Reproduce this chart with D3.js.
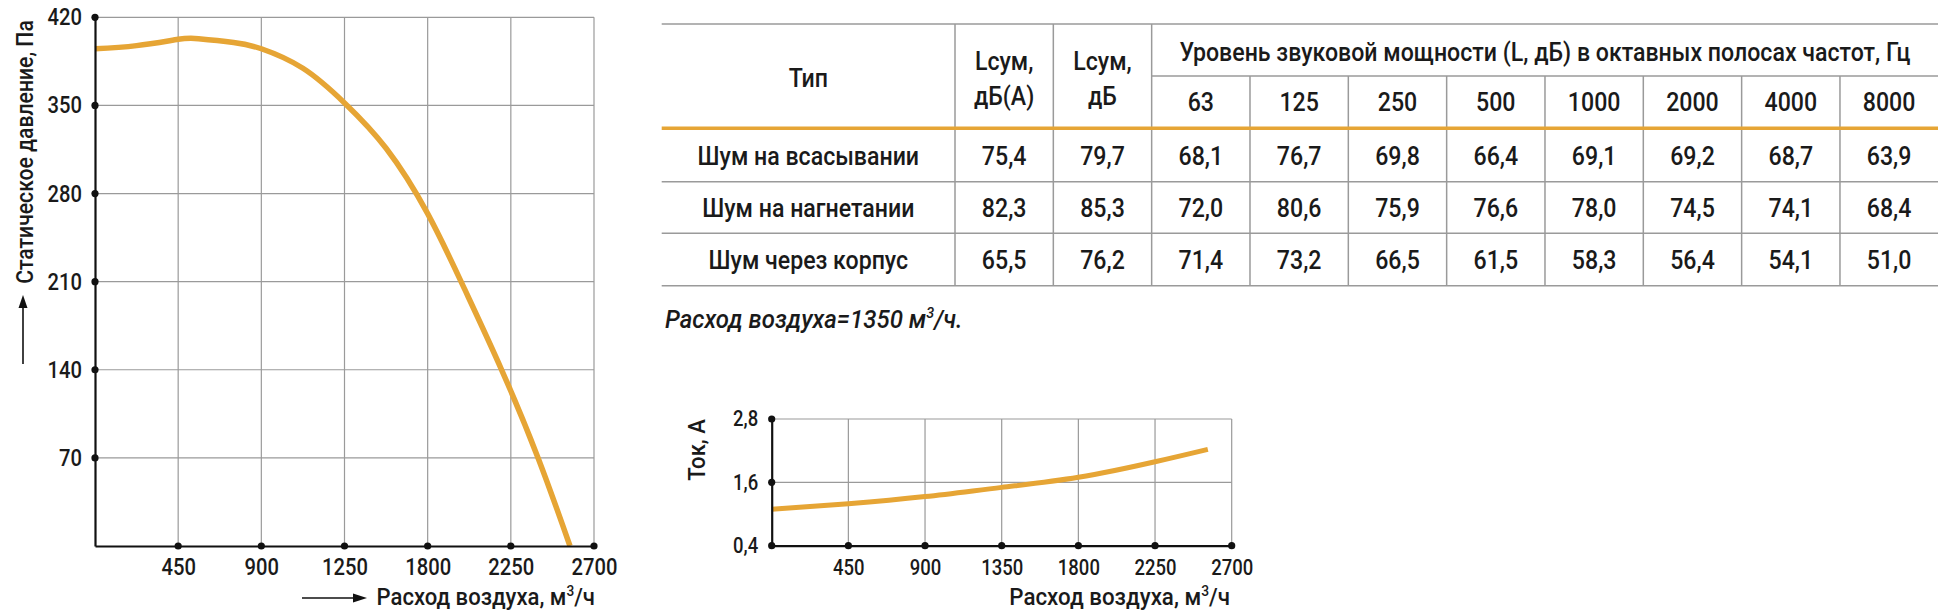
<!DOCTYPE html>
<html><head><meta charset="utf-8">
<script src="https://cdn.jsdelivr.net/npm/d3@7"></script>
<style>
html,body{margin:0;padding:0;background:#fff;}
svg{display:block;}
text{font-family:Roboto,'Liberation Sans',sans-serif;fill:#1a1a1a;font-weight:500;}
</style></head>
<body><svg id="c" width="1938" height="615"></svg>
<script>
// ---------- DATA ----------
const pressureFlow = [0, 225, 450, 560, 750, 900, 1125, 1350, 1575, 1800, 2000, 2200, 2400, 2570];
const pressureVal  = [395, 397.5, 402.5, 403, 400, 395, 379.5, 352, 316, 264, 204, 140, 69, 0];
const mainXTicks = [450, 900, 1350, 1800, 2250, 2700];
const mainXLabels = ["450", "900", "1250", "1800", "2250", "2700"];
const mainYTicks = [70, 140, 210, 280, 350, 420];

const currentFlow = [0, 450, 900, 1350, 1800, 2250, 2560];
const currentVal  = [1.09, 1.195, 1.33, 1.505, 1.695, 1.99, 2.225];
const smallXTicks = [450, 900, 1350, 1800, 2250, 2700];
const smallYTicks = [0.4, 1.6, 2.8];

const rowTypes = ["Шум на всасывании", "Шум на нагнетании", "Шум через корпус"];
const lsumA = [75.4, 82.3, 65.5];
const lsum = [79.7, 85.3, 76.2];
const octaves = ["63", "125", "250", "500", "1000", "2000", "4000", "8000"];
const octaveValues = [
  [68.1, 76.7, 69.8, 66.4, 69.1, 69.2, 68.7, 63.9],
  [72.0, 80.6, 75.9, 76.6, 78.0, 74.5, 74.1, 68.4],
  [71.4, 73.2, 66.5, 61.5, 58.3, 56.4, 54.1, 51.0]
];
const headerType = "Тип";
const headerLsumA = ["Lсум,", "дБ(А)"];
const headerLsum = ["Lсум,", "дБ"];
const headerOctave = "Уровень звуковой мощности (L, дБ) в октавных полосах частот, Гц";
const noteText = "Расход воздуха=1350 м";
const mainYTitle = "Статическое давление, Па";
const xTitle = "Расход воздуха, м";
const smallYTitle = "Ток, А";

// ---------- STYLE ----------
const ORANGE = "#E6A535";
const GRID = "#9a9a9a";
const svg = d3.select("#c");
const fmt = v => d3.format(".1f")(v).replace(".", ",");
function cond(sel, k, origin) {
  sel.style("transform-box", "fill-box").style("transform-origin", origin).style("transform", `scaleX(${k})`);
  return sel;
}

function drawChart(cfg) {
  const g = svg.append("g");
  const x = d3.scaleLinear().domain(cfg.xDomain).range(cfg.xRange);
  const y = d3.scaleLinear().domain(cfg.yDomain).range(cfg.yRange);
  g.append("g").selectAll("line").data(cfg.xTicks).join("line")
    .attr("x1", d => x(d)).attr("x2", d => x(d))
    .attr("y1", y(cfg.yDomain[0])).attr("y2", y(cfg.yDomain[1]))
    .attr("stroke", GRID).attr("stroke-width", 1.2);
  g.append("g").selectAll("line").data(cfg.yTicks.filter(t => t !== cfg.yDomain[0])).join("line")
    .attr("x1", x(cfg.xDomain[0])).attr("x2", x(cfg.xDomain[1]))
    .attr("y1", d => y(d)).attr("y2", d => y(d))
    .attr("stroke", GRID).attr("stroke-width", 1.2);
  g.append("path").datum(cfg.flow.map((f, i) => [f, cfg.vals[i]]))
    .attr("fill", "none").attr("stroke", ORANGE).attr("stroke-width", cfg.lw)
    .attr("d", d3.line().x(d => x(d[0])).y(d => y(d[1])).curve(d3.curveNatural));
  const xa = g.append("g").attr("transform", `translate(0,${y(cfg.yDomain[0])})`)
    .call(d3.axisBottom(x).tickValues(cfg.xTicks).tickSize(0).tickPadding(cfg.xPad)
      .tickFormat((d, i) => cfg.xLabels[i]));
  const ya = g.append("g").attr("transform", `translate(${x(cfg.xDomain[0])},0)`)
    .call(d3.axisLeft(y).tickValues(cfg.yTicks).tickSize(0).tickPadding(cfg.yPad)
      .tickFormat(cfg.yFormat));
  [xa, ya].forEach(a => {
    a.select(".domain").attr("stroke", "#111").attr("stroke-width", 2.2);
    a.selectAll("text").attr("font-size", cfg.fs).attr("fill", "#1a1a1a").attr("font-family", null);
  });
  cond(xa.selectAll("text"), cfg.k, "center");
  cond(ya.selectAll("text"), cfg.k, "right center");
  g.append("g").selectAll("circle").data(cfg.xTicks).join("circle")
    .attr("cx", d => x(d)).attr("cy", y(cfg.yDomain[0])).attr("r", 3.6).attr("fill", "#111");
  g.append("g").selectAll("circle").data(cfg.yTicks).join("circle")
    .attr("cx", x(cfg.xDomain[0])).attr("cy", d => y(d)).attr("r", 3.6).attr("fill", "#111");
  return {x, y, g};
}

function rotTitle(tx, ty, txt, fs, k) {
  const t = svg.append("g").attr("transform", `translate(${tx},${ty}) rotate(-90)`)
    .append("text").attr("x", 0).attr("y", 0).attr("text-anchor", "middle").attr("font-size", fs).text(txt);
  cond(t, k, "center");
}
function flowTitle(xEnd, yBase, fs, k) {
  const t = svg.append("text").attr("x", xEnd).attr("y", yBase).attr("text-anchor", "end").attr("font-size", fs);
  t.append("tspan").text(xTitle);
  t.append("tspan").attr("font-size", fs * 0.62).attr("dy", -9).text("3");
  t.append("tspan").attr("dy", 9).text("/ч");
  cond(t, k, "right center");
}

// main chart
drawChart({
  xDomain: [0, 2700], xRange: [95, 594], yDomain: [0, 420], yRange: [546, 17.3],
  xTicks: mainXTicks, xLabels: mainXLabels, yTicks: mainYTicks, yFormat: d3.format("d"),
  flow: pressureFlow, vals: pressureVal, lw: 5.5, fs: 23.5, k: 0.86, xPad: 12.5, yPad: 13
});
rotTitle(33, 152, mainYTitle, 23.5, 0.9);
svg.append("line").attr("x1", 23).attr("x2", 23).attr("y1", 364).attr("y2", 306).attr("stroke", "#111").attr("stroke-width", 1.6);
svg.append("path").attr("d", "M23,295 L18.5,308 L27.5,308 Z").attr("fill", "#111");
flowTitle(595, 605, 23.5, 0.94);
svg.append("line").attr("x1", 302).attr("x2", 355).attr("y1", 598).attr("y2", 598).attr("stroke", "#111").attr("stroke-width", 1.6);
svg.append("path").attr("d", "M367,598 L353,593.5 L353,602.5 Z").attr("fill", "#111");

// small chart
drawChart({
  xDomain: [0, 2700], xRange: [771.7, 1231.7], yDomain: [0.4, 2.8], yRange: [545.7, 419],
  xTicks: smallXTicks, xLabels: smallXTicks.map(String), yTicks: smallYTicks,
  yFormat: d => d3.format(".1f")(d).replace(".", ","),
  flow: currentFlow, vals: currentVal, lw: 5, fs: 21.5, k: 0.86, xPad: 14, yPad: 13.5
});
rotTitle(705, 450, smallYTitle, 24, 0.92);
flowTitle(1230, 605, 24, 0.93);

// ---------- TABLE ----------
const tLeft = 661.7, firstColRight = 955, colW = 98.33;
const nCols = 2 + octaves.length;
const colX = d3.scaleLinear().domain([0, nCols]).range([firstColRight, firstColRight + nCols * colW]);
const tRight = colX(nCols);
const rowsY = [24, 76, 128.3, 181.7, 233.3, 285.7];
const T = svg.append("g");
const FS = 26;
const TK = 0.89;
function tText(x, y, s) {
  const t = T.append("text").attr("x", x).attr("y", y).attr("text-anchor", "middle").attr("font-size", FS).text(s);
  cond(t, TK, "center");
}
T.append("line").attr("x1", tLeft).attr("x2", tRight).attr("y1", rowsY[0]).attr("y2", rowsY[0]).attr("stroke", GRID).attr("stroke-width", 1.5);
T.append("line").attr("x1", colX(2)).attr("x2", tRight).attr("y1", rowsY[1]).attr("y2", rowsY[1]).attr("stroke", GRID).attr("stroke-width", 1.5);
[rowsY[3], rowsY[4], rowsY[5]].forEach(yy =>
  T.append("line").attr("x1", tLeft).attr("x2", tRight).attr("y1", yy).attr("y2", yy).attr("stroke", GRID).attr("stroke-width", 1.5));
d3.range(0, nCols).forEach(i => {
  const top = i >= 3 ? rowsY[1] : rowsY[0];
  T.append("line").attr("x1", colX(i)).attr("x2", colX(i)).attr("y1", top).attr("y2", rowsY[5]).attr("stroke", GRID).attr("stroke-width", 1.5);
});
T.append("line").attr("x1", tLeft).attr("x2", tRight).attr("y1", rowsY[2]).attr("y2", rowsY[2]).attr("stroke", ORANGE).attr("stroke-width", 3.4);
tText((tLeft + firstColRight) / 2, 87, headerType);
[headerLsumA, headerLsum].forEach((h, i) => {
  h.forEach((line, j) => tText((colX(i) + colX(i + 1)) / 2, 70 + j * 35, line));
});
tText((colX(2) + tRight) / 2, 61.5, headerOctave);
octaves.forEach((o, i) => tText((colX(i + 2) + colX(i + 3)) / 2, 111.5, o));
rowTypes.forEach((r, ri) => {
  const by = (rowsY[ri + 2] + rowsY[ri + 3]) / 2 + 10;
  tText((tLeft + firstColRight) / 2, by, r);
  const vals = [lsumA[ri], lsum[ri]].concat(octaveValues[ri]);
  vals.forEach((v, ci) => tText((colX(ci) + colX(ci + 1)) / 2, by, fmt(v)));
});
const nt = svg.append("text").attr("x", 665).attr("y", 328).attr("font-size", 25).attr("font-style", "italic").attr("font-weight", 400);
nt.append("tspan").text(noteText);
nt.append("tspan").attr("font-size", 15).attr("dy", -10).text("3");
nt.append("tspan").attr("dy", 10).text("/ч.");
cond(nt, 0.96, "left center");
</script></body></html>
